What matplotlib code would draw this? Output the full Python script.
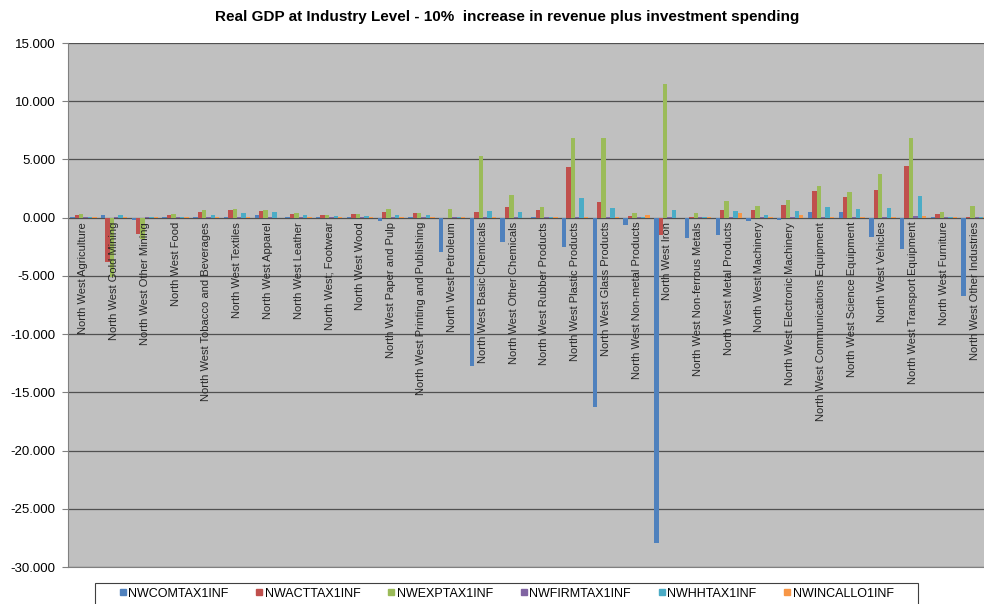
import numpy as np
import matplotlib
matplotlib.use("Agg")
import matplotlib.pyplot as plt
from matplotlib.lines import Line2D
from matplotlib.patches import Rectangle

plt.rcParams['font.family'] = ['Liberation Sans', 'DejaVu Sans']

industries = [
    "North West Agriculture", "North West Gold Mining", "North West Other Mining",
    "North West Food", "North West Tobacco and Beverages", "North West Textiles",
    "North West Apparel", "North West Leather", "North West; Footwear",
    "North West Wood", "North West Paper and Pulp", "North West Printing and Publishing",
    "North West Petroleum", "North West Basic Chemicals", "North West Other Chemicals",
    "North West Rubber Products", "North West Plastic Products", "North West Glass Products",
    "North West Non-metal Products", "North West Iron", "North West Non-ferrous Metals",
    "North West Metal Products", "North West Machinery", "North West Electronic Machinery",
    "North West Communications Equipment", "North West Science Equipment",
    "North West Vehicles", "North West Transport Equipment", "North West Furniture",
    "North West Other Industries",
]

series_names = ["NWCOMTAX1INF", "NWACTTAX1INF", "NWEXPTAX1INF",
                "NWFIRMTAX1INF", "NWHHTAX1INF", "NWINCALLO1INF"]

nwcomtax = [0.02, 0.20, -0.20, 0.05, 0.10, 0.10, 0.20, 0.05, 0.05, 0.05,
            -0.30, 0.05, -2.95, -12.75, -2.10, 0.05, -2.50, -16.25, -0.60, -27.90,
            -1.75, -1.52, -0.29, -0.20, 0.52, 0.46, -1.69, -2.69, 0.02, -6.76]
nwacttax = [0.23, -3.80, -1.38, 0.25, 0.52, 0.69, 0.57, 0.35, 0.20, 0.30,
            0.50, 0.40, -0.05, 0.52, 0.92, 0.69, 4.36, 1.32, 0.17, -1.46,
            0.05, 0.69, 0.69, 1.09, 2.26, 1.78, 2.35, 4.47, 0.34, 0.02]
nwexptax = [0.28, -5.10, -1.80, 0.30, 0.63, 0.77, 0.70, 0.43, 0.20, 0.35,
            0.77, 0.43, 0.78, 5.26, 1.95, 0.92, 6.88, 6.83, 0.40, 11.50,
            0.40, 1.43, 0.97, 1.55, 2.75, 2.18, 3.78, 6.82, 0.46, 1.03]
nwfirmtax = [0.02, 0.02, 0.02, 0.02, 0.03, 0.03, 0.03, 0.05, 0.03, 0.03,
             0.03, 0.03, 0.02, 0.02, 0.03, 0.03, 0.10, 0.05, 0.05, 0.03,
             0.02, 0.03, 0.03, 0.03, 0.03, 0.03, 0.05, 0.15, 0.05, 0.05]
nwhhtax = [0.05, 0.20, 0.05, 0.08, 0.20, 0.40, 0.45, 0.20, 0.15, 0.15,
           0.25, 0.20, 0.05, 0.55, 0.50, 0.10, 1.72, 0.80, 0.10, 0.63,
           0.05, 0.57, 0.26, 0.54, 0.95, 0.74, 0.80, 1.83, 0.05, 0.02]
nwincallo = [0.02, 0.05, 0.03, 0.02, 0.02, 0.02, -0.05, 0.02, 0.02, 0.02,
             0.03, 0.02, 0.02, 0.02, -0.05, 0.02, 0.05, 0.02, 0.20, -0.05,
             0.02, 0.37, 0.05, 0.26, 0.05, 0.05, 0.05, 0.17, 0.02, 0.02]

series = [nwcomtax, nwacttax, nwexptax, nwfirmtax, nwhhtax, nwincallo]
colors = ["#4F81BD", "#C0504D", "#9BBB59", "#8064A2", "#4BACC6", "#F79646"]

fig = plt.figure(figsize=(9.84, 6.04), dpi=100)
ax = fig.add_axes([68 / 984, 1 - 567 / 604, 922 / 984, 524 / 604])
ax.set_facecolor("#C0C0C0")

x = np.arange(len(industries))
w = 0.143
for k, (vals, c) in enumerate(zip(series, colors)):
    ax.bar(x + (k - 2.5) * w, vals, width=w, color=c, linewidth=0, zorder=3)

ax.set_xlim(-0.5, len(industries) - 0.5)
ax.set_ylim(-30, 15)
ax.set_yticks(np.arange(-30, 16, 5))
ax.set_yticklabels([f"{v:.3f}" for v in np.arange(-30, 16, 5)], fontsize=9.5)
ax.yaxis.grid(True, color="#505050", linewidth=0.9, zorder=1)
ax.set_axisbelow(True)
ax.set_xticks([])
ax.tick_params(axis="y", length=4, width=0.8, color="#808080", pad=5)
for side in ["top", "right"]:
    ax.spines[side].set_visible(False)
ax.spines["left"].set_color("#808080")
ax.spines["bottom"].set_color("#808080")

# category names hang just below the zero line
for i, name in enumerate(industries):
    ax.annotate(name, (i, 0), xytext=(0, -3), textcoords="offset points",
                rotation=90, ha="center", va="top", fontsize=8,
                color="#262626", zorder=4)

fig.text(0.515, 1 - 17 / 604,
         "Real GDP at Industry Level - 10%  increase in revenue plus investment spending",
         ha="center", va="center", fontsize=11, fontweight="bold")

# legend box runs off the bottom edge, so draw it separately
fig.patches.append(Rectangle((95 / 984, -0.02), (918 - 95) / 984, 0.02 + 21 / 604,
                             transform=fig.transFigure, facecolor="white",
                             edgecolor="#404040", linewidth=0.8, zorder=0))

handles = [Line2D([], [], marker="s", linestyle="none", markersize=4.5,
                  color=c) for c in colors]
leg = fig.legend(handles, series_names, loc="upper left",
                 bbox_to_anchor=(114 / 984, 1 - 582 / 604), ncol=6,
                 fontsize=9, frameon=False,
                 handlelength=0.5, handletextpad=0.2, columnspacing=2.2,
                 borderpad=0.45, borderaxespad=0)

fig.savefig("out.png", dpi=100)
